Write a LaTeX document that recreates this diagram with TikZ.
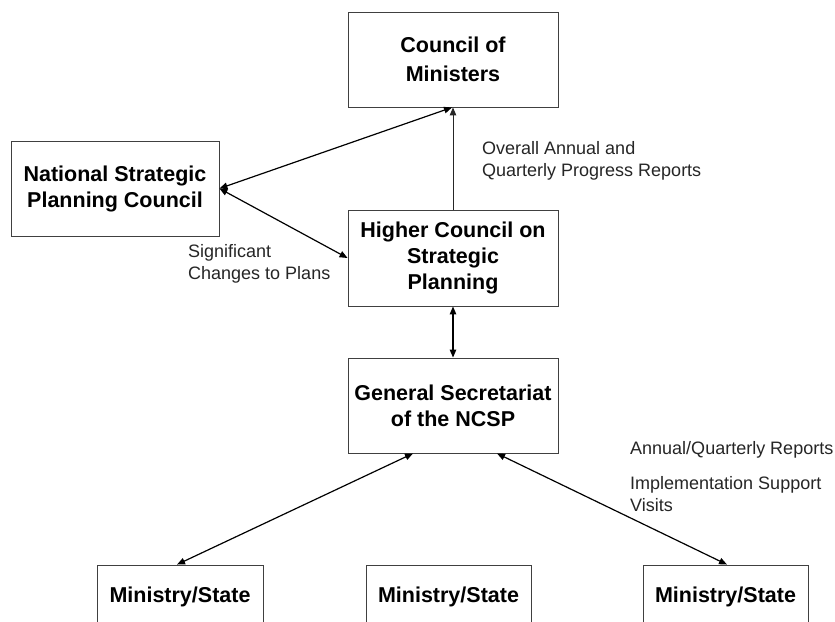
\documentclass[tikz,border=0pt]{standalone}
\usepackage{fontspec}
\setmainfont{Liberation Sans}
\usetikzlibrary{arrows.meta}
\tikzset{
  box/.style={draw=black!75, line width=0.9pt, rectangle, inner sep=0pt, align=center,
    font=\fontsize{21.5}{26}\selectfont\bfseries},
  lbl/.style={inner sep=0pt, align=left, anchor=west, text=black!85,
    font=\fontsize{18}{22}\selectfont},
  link/.style={draw=black, line width=1.2pt, {Triangle[length=8pt,width=6.5pt]}-{Triangle[length=8pt,width=6.5pt]}},
  uplink/.style={draw=black!85, line width=1pt, -{Triangle[length=8pt,width=6.5pt]}}
}
\begin{document}
\begin{tikzpicture}[x=1pt,y=-1pt]
\clip (0,0) rectangle (835,621);
\fill[white] (0,0) rectangle (835,621);
\node[box, minimum width=210pt, minimum height=95pt, font=\fontsize{21.5}{29}\selectfont\bfseries] (council) at (453,59.5) {Council of\\Ministers};
\node[box, minimum width=208pt, minimum height=95pt] (nspc) at (115,188.5) {National Strategic\\Planning Council};
\node[box, minimum width=210pt, minimum height=96pt] (higher) at (453,258) {Higher Council on\\Strategic\\Planning};
\node[box, minimum width=210pt, minimum height=95pt] (general) at (453,405.5) {General Secretariat\\of the NCSP};
\node[box, minimum width=166pt, minimum height=64pt] (minL) at (180,597) {Ministry/State};
\node[box, minimum width=165pt, minimum height=64pt] (minM) at (448.5,597) {Ministry/State};
\node[box, minimum width=165pt, minimum height=64pt] (minR) at (725.5,597) {Ministry/State};

\node[lbl] (lover) at (482,161) {Overall Annual and\\Quarterly Progress Reports};
\node[lbl] (lsig) at (188,264) {Significant\\Changes to Plans};
\node[lbl] (lann) at (630,450) {Annual/Quarterly Reports};
\node[lbl] (limp) at (630,494.5) {Implementation Support\\Visits};

\draw[uplink] (higher.north) -- (council.south);
\draw[link] (nspc.east) -- ([xshift=-1pt]council.south);
\draw[link] (nspc.east) -- (higher.west);
\draw[link] (higher.south) -- (general.north);
\draw[link] ([xshift=-40pt]general.south) -- ([xshift=-3pt]minL.north);
\draw[link] ([xshift=44pt]general.south) -- ([xshift=1.5pt]minR.north);
\end{tikzpicture}
\end{document}
